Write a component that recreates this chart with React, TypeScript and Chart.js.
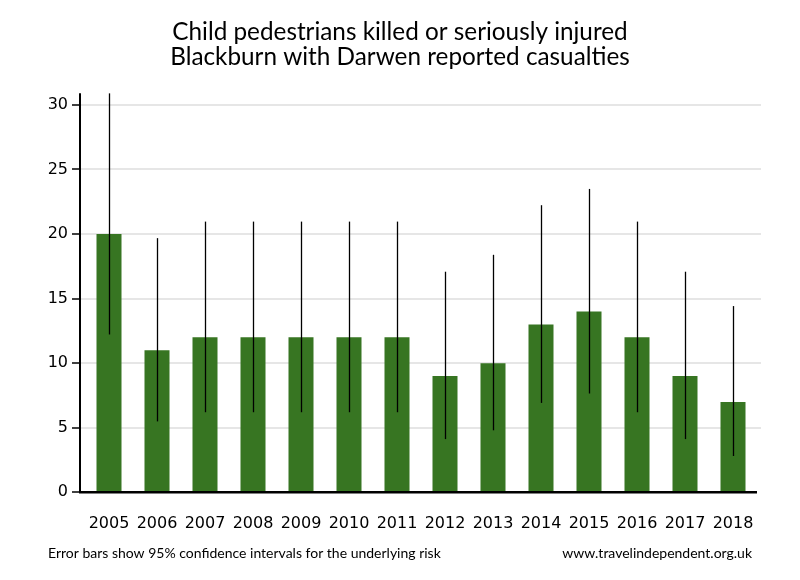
import React, { useEffect, useRef } from "react";
import { Chart, registerables } from "chart.js";

Chart.register(...registerables);

const years = ["2005", "2006", "2007", "2008", "2009", "2010", "2011", "2012", "2013", "2014", "2015", "2016", "2017", "2018"];
const casualties = [20, 11, 12, 12, 12, 12, 12, 9, 10, 13, 14, 12, 9, 7];
const ciLower = [12.22, 5.49, 6.2, 6.2, 6.2, 6.2, 6.2, 4.12, 4.8, 6.92, 7.65, 6.2, 4.12, 2.81];
const ciUpper = [30.89, 19.68, 20.96, 20.96, 20.96, 20.96, 20.96, 17.08, 18.39, 22.23, 23.49, 20.96, 17.08, 14.42];
const yTickValues = [0, 5, 10, 15, 20, 25, 30];
const yMax = 30.89;
const titleLines = ["Child pedestrians killed or seriously injured", "Blackburn with Darwen reported casualties"];
const footLeft = "Error bars show 95% confidence intervals for the underlying risk";
const footRight = "www.travelindependent.org.uk";

const axesPlugin = {
  id: "customAxes",
  beforeDatasetsDraw(chart: any) {
    const { ctx, chartArea, scales } = chart;
    const y = scales.y;
    ctx.save();
    ctx.strokeStyle = "#e6e6e6";
    ctx.lineWidth = 2;
    yTickValues.forEach((v) => {
      if (v === 0) return;
      const py = Math.round(y.getPixelForValue(v));
      ctx.beginPath();
      ctx.moveTo(chartArea.left - 5, py);
      ctx.lineTo(chartArea.right + 4, py);
      ctx.stroke();
    });
    ctx.restore();
  },
  afterDatasetsDraw(chart: any) {
    const { ctx, chartArea, scales } = chart;
    const y = scales.y;
    ctx.save();
    const meta = chart.getDatasetMeta(0);
    ctx.strokeStyle = "#000";
    ctx.lineWidth = 1.3;
    meta.data.forEach((bar: any, i: number) => {
      const x = Math.round(bar.x) + 0.5;
      ctx.beginPath();
      ctx.moveTo(x, y.getPixelForValue(ciUpper[i]));
      ctx.lineTo(x, y.getPixelForValue(ciLower[i]));
      ctx.stroke();
    });
    const axX = chartArea.left - 5;
    ctx.lineWidth = 2;
    ctx.beginPath();
    ctx.moveTo(axX, chartArea.top);
    ctx.lineTo(axX, chartArea.bottom);
    ctx.stroke();
    ctx.lineWidth = 1.5;
    yTickValues.forEach((v) => {
      const py = Math.round(y.getPixelForValue(v));
      ctx.beginPath();
      ctx.moveTo(axX - 8, py);
      ctx.lineTo(axX, py);
      ctx.stroke();
    });
    ctx.lineWidth = 2.5;
    ctx.beginPath();
    ctx.moveTo(axX - 1, chartArea.bottom);
    ctx.lineTo(chartArea.right, chartArea.bottom);
    ctx.stroke();
    ctx.restore();
  },
  afterDraw(chart: any) {
    const { ctx } = chart;
    ctx.save();
    ctx.fillStyle = "#000";
    ctx.font = "14px Lato";
    ctx.textBaseline = "middle";
    ctx.textAlign = "left";
    ctx.fillText(footLeft, 48, 553);
    ctx.textAlign = "right";
    ctx.fillText(footRight, 752, 553);
    ctx.restore();
  },
};

export default function App() {
  const ref = useRef<HTMLCanvasElement>(null);
  useEffect(() => {
    if (!ref.current) return;
    const chart = new Chart(ref.current, {
      type: "bar",
      data: {
        labels: years,
        datasets: [
          {
            data: casualties,
            backgroundColor: "#377522",
            barPercentage: 25 / 48,
            categoryPercentage: 1,
          },
        ],
      },
      options: {
        animation: false,
        responsive: false,
        layout: { padding: { left: 0, right: 0, top: 0, bottom: 40 } },
        plugins: {
          legend: { display: false },
          tooltip: { enabled: false },
          title: {
            display: true,
            text: titleLines,
            color: "#000",
            font: { family: "Lato", size: 24.3, weight: "normal", lineHeight: 1.03 },
            padding: { top: 20, bottom: 23.3 },
          },
        },
        scales: {
          x: {
            grid: { display: false },
            border: { display: false },
            ticks: {
              color: "#000",
              font: { family: "DejaVu Sans", size: 16 },
              padding: 14,
              maxRotation: 0,
              autoSkip: false,
            },
            afterFit: (s: any) => {
              s.height = 47.7;
            },
          },
          y: {
            min: 0,
            max: yMax,
            grid: { display: false },
            border: { display: false },
            ticks: {
              stepSize: 5,
              color: "#000",
              font: { family: "DejaVu Sans", size: 16 },
              padding: 9,
              autoSkip: false,
            },
            afterBuildTicks: (s: any) => {
              s.ticks = yTickValues.map((v) => ({ value: v }));
            },
            afterFit: (s: any) => {
              s.width = 85;
            },
          },
          yRight: {
            position: "right",
            min: 0,
            max: yMax,
            grid: { display: false },
            border: { display: false },
            ticks: { display: false },
            afterFit: (s: any) => {
              s.width = 43;
            },
          },
        },
      },
      plugins: [axesPlugin],
    });
    return () => chart.destroy();
  }, []);
  return (
    <div style={{ position: "fixed", left: 0, top: 0, width: 800, height: 580, background: "#fff" }}>
      <canvas ref={ref} width={800} height={580} style={{ width: 800, height: 580 }} />
    </div>
  );
}
